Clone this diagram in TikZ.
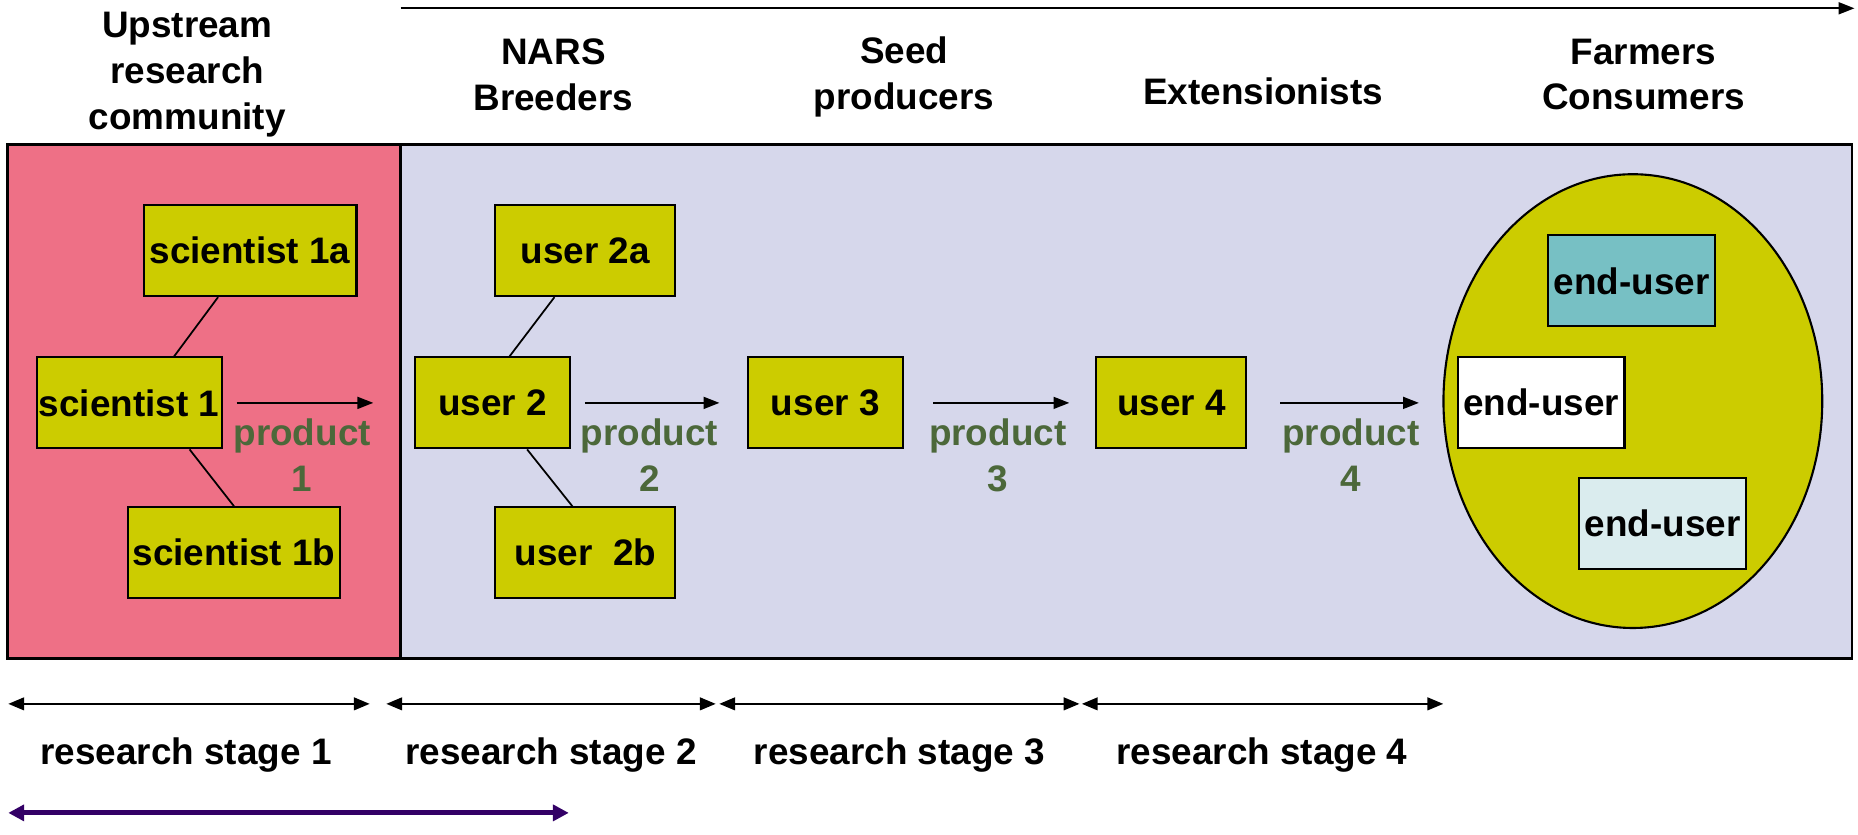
\documentclass[tikz,border=0pt]{standalone}
\usepackage{fontspec}
\setmainfont{Liberation Sans}
\usetikzlibrary{shapes.geometric, arrows.meta, positioning}

\definecolor{upstreampink}{RGB}{238,112,134}
\definecolor{chainlilac}{RGB}{214,215,235}
\definecolor{actorfill}{RGB}{204,204,0}
\definecolor{tealfill}{RGB}{119,192,196}
\definecolor{palefill}{RGB}{218,236,238}
\definecolor{prodgreen}{RGB}{76,104,58}
\definecolor{spanpurple}{RGB}{51,0,102}

\tikzstyle{group} = [rectangle, draw=black, line width=0.8pt, inner sep=0pt]
\tikzstyle{actor} = [rectangle, draw=black, line width=0.6pt, fill=actorfill, inner sep=0pt, minimum height=0.91cm, text centered]
\tikzstyle{enduser} = [rectangle, draw=black, line width=0.6pt, inner sep=0pt, minimum width=1.67cm, minimum height=0.91cm, text centered]
\tikzstyle{heading} = [align=center]
\tikzstyle{product} = [align=center, text=prodgreen]
\tikzstyle{link} = [line width=0.5pt]
\tikzstyle{arrow} = [line width=0.5pt, -{Triangle[length=4.5pt, width=3.4pt]}]
\tikzstyle{stage} = [line width=0.6pt, {Triangle[length=4.5pt, width=3.6pt]}-{Triangle[length=4.5pt, width=3.6pt]}]
\tikzstyle{span} = [line width=1.4pt, draw=spanpurple, {Triangle[length=4.5pt, width=4.5pt]}-{Triangle[length=4.5pt, width=4.5pt]}]

\begin{document}
\begin{tikzpicture}[x=0.01185cm, y=-0.01185cm, every node/.style={font=\fontsize{10.5}{13}\selectfont\bfseries}]

\useasboundingbox (0,0) rectangle (1568,704);

% headings of the chain
\node (upstream) [heading] at (158,63) {Upstream\\research\\community};
\node (nars) [heading] at (467,63) {NARS\\Breeders};
\node (seed) [heading] at (763,65) {Seed\\producers};
\node (ext) [heading] at (1066,77) {Extensionists};
\node (farmers) [heading] at (1387,63) {Farmers\\Consumers};

\coordinate (chainstart) at (338,7);
\coordinate (chainend) at (1565,7);
\draw [arrow] (chainstart) -- (chainend);

% the two fields
\node (field1) [group, fill=upstreampink, minimum width=3.93cm, minimum height=5.14cm] at (172,339) {};
\node (field2) [group, fill=chainlilac, minimum width=14.52cm, minimum height=5.14cm] at (950.5,339) {};

% upstream research
\node (s1a) [actor, minimum width=2.13cm] at (211,211.5) {scientist 1a};
\node (s1) [actor, minimum width=1.85cm] at (109,340) {scientist 1};
\node (s1b) [actor, minimum width=2.12cm] at (197.5,466.5) {scientist 1b};

\draw [link] ([xshift=-9.1pt]s1a.south) -- ([xshift=12.8pt]s1.north);
\draw [link] ([xshift=17.2pt]s1.south) -- (s1b.north);

% users along the chain
\node (u2a) [actor, minimum width=1.8cm] at (494,211.5) {user 2a};
\node (u2) [actor, minimum width=1.55cm] at (415.5,340) {user 2};
\node (u2b) [actor, minimum width=1.8cm] at (494,466.5) {user\ \ 2b};
\node (u3) [actor, minimum width=1.55cm] at (696.5,340) {user 3};
\node (u4) [actor, minimum width=1.5cm] at (988.5,340) {user 4};

\draw [link] ([xshift=-8.8pt]u2a.south) -- ([xshift=4.9pt]u2.north);
\draw [link] ([xshift=9.9pt]u2.south) -- ([xshift=-3.7pt]u2b.north);

% end-users
\node (crowd) [ellipse, draw=black, line width=0.6pt, fill=actorfill, inner sep=0pt, minimum width=3.79cm, minimum height=4.54cm] at (1378,338.5) {};
\node (end1) [enduser, fill=tealfill] at (1377,237) {end-user};
\node (end2) [enduser, fill=white] at (1300.5,339.5) {end-user};
\node (end3) [enduser, fill=palefill] at (1403,441.5) {end-user};

% products handed on
\draw [arrow] ([xshift=4pt]s1.east) -- ([xshift=-7.4pt]field2.west |- s1.east);
\draw [arrow] ([xshift=4pt]u2.east) -- ([xshift=-7.8pt]u3.west);
\draw [arrow] ([xshift=8.4pt]u3.east) -- ([xshift=-7.4pt]u4.west);
\draw [arrow] ([xshift=9.4pt]u4.east) -- ([xshift=-6.7pt]crowd.west |- u4.east);

\node (prod1) [product] at (255,384) {product\\1};
\node (prod2) [product] at (548,384) {product\\2};
\node (prod3) [product] at (842,384) {product\\3};
\node (prod4) [product] at (1140,384) {product\\4};

% research stages
\coordinate (st1a) at (7,594);
\coordinate (st1b) at (312,594);
\coordinate (st2a) at (326,594);
\coordinate (st2b) at (604,594);
\coordinate (st3a) at (607,594);
\coordinate (st3b) at (911,594);
\coordinate (st4a) at (913,594);
\coordinate (st4b) at (1218,594);

\draw [stage] (st1a) -- (st1b);
\draw [stage] (st2a) -- (st2b);
\draw [stage] (st3a) -- (st3b);
\draw [stage] (st4a) -- (st4b);

\node (stage1) at (157,637) {research stage 1};
\node (stage2) at (465,637) {research stage 2};
\node (stage3) at (759,637) {research stage 3};
\node (stage4) at (1065,637) {research stage 4};

\coordinate (spanstart) at (7,686);
\coordinate (spanend) at (480,686);
\draw [span] (spanstart) -- (spanend);

\end{tikzpicture}
\end{document}
